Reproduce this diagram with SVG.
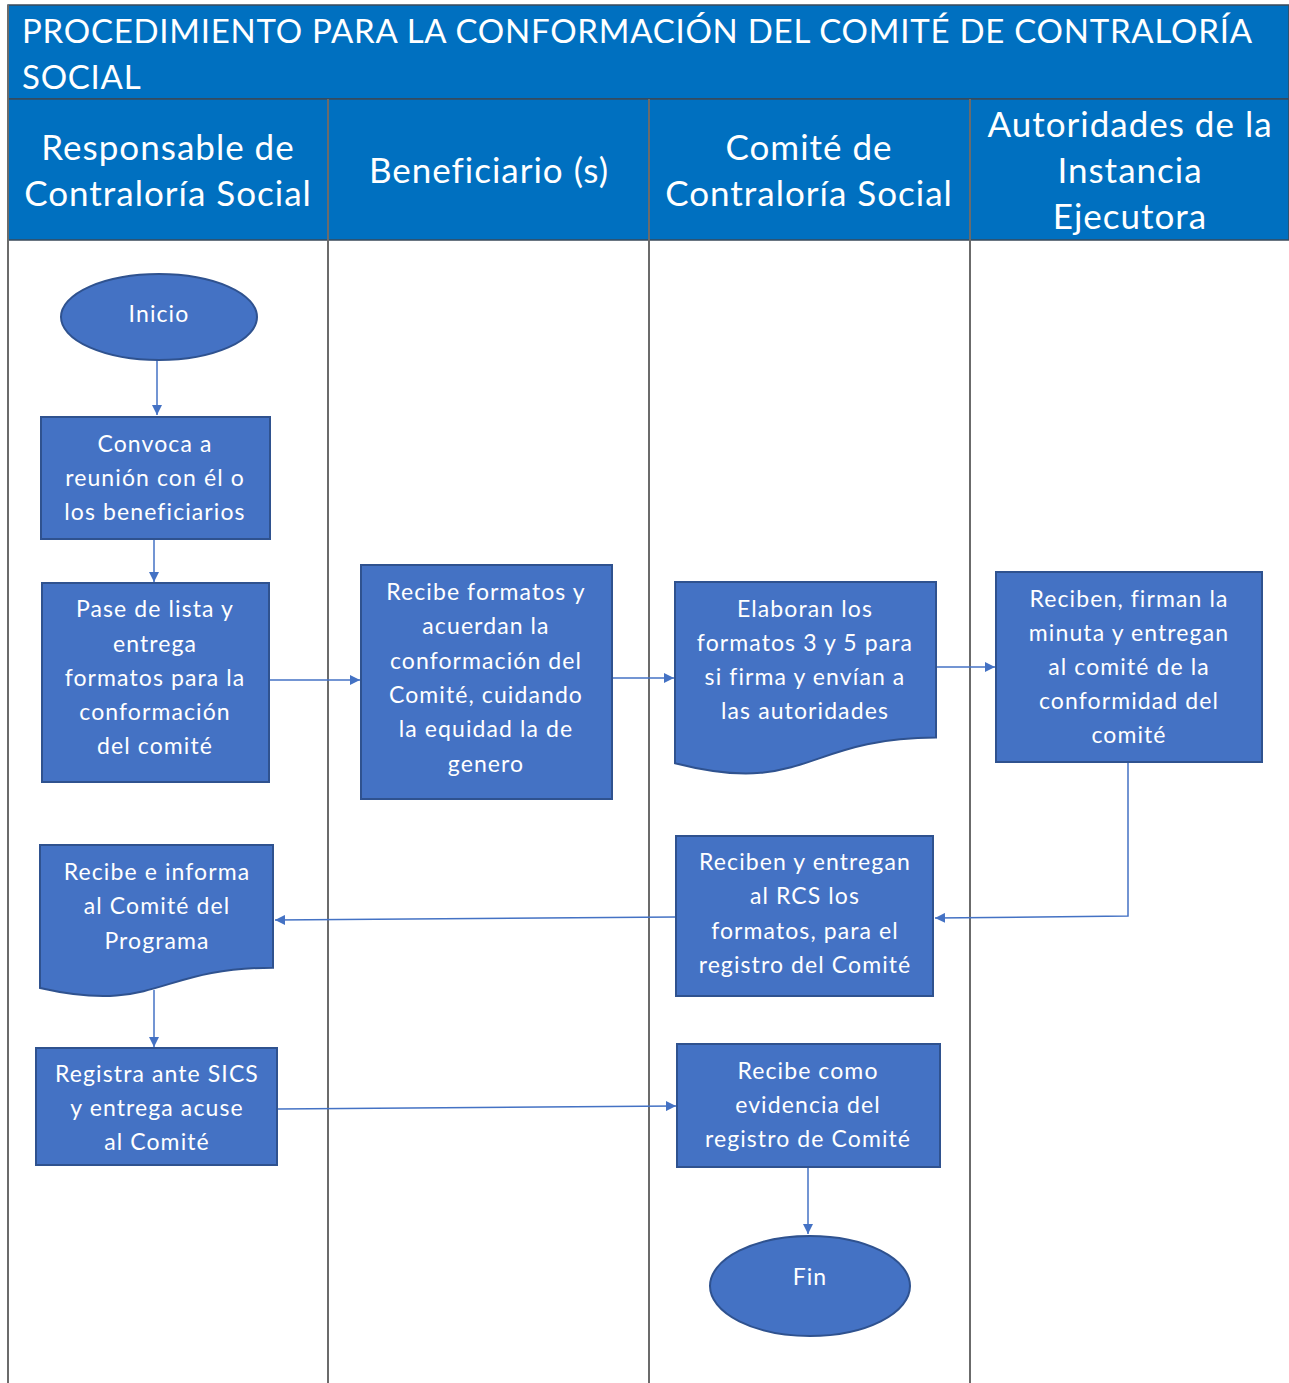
<svg xmlns="http://www.w3.org/2000/svg" width="1289" height="1383" viewBox="0 0 1289 1383">
<style>
.hdr{fill:#0070C0;stroke:#3a4a5a;stroke-width:1.5}
.lane{stroke:#6b6b6b;stroke-width:2;fill:none}
.node{fill:#4472C4;stroke:#2F528F;stroke-width:2}
.ht{font-family:Lato,"Liberation Sans",sans-serif;fill:#fff;font-size:33px;letter-spacing:0.75px}
.hc{font-family:Lato,"Liberation Sans",sans-serif;fill:#fff;font-size:35px;letter-spacing:1px;text-anchor:middle}
.nt{font-family:Lato,"Liberation Sans",sans-serif;fill:#fff;font-size:23px;letter-spacing:1.1px;text-anchor:middle}
.con{stroke:#4472C4;stroke-width:1.5;fill:none;marker-end:url(#ah)}
</style>
<defs>
<marker id="ah" viewBox="0 0 10 10" refX="10" refY="5" markerWidth="10" markerHeight="10" markerUnits="userSpaceOnUse" orient="auto">
<path d="M0,0 L10,5 L0,10 Z" fill="#4472C4"/>
</marker>
</defs>
<rect width="1289" height="1383" fill="#fff"/>
<g id="header">
<rect class="hdr" x="8" y="5" width="1281" height="94"/>
<rect class="hdr" x="8" y="99" width="1281" height="141"/>
<text class="ht" x="22" y="43">PROCEDIMIENTO PARA LA CONFORMACIÓN DEL COMITÉ DE CONTRALORÍA</text>
<text class="ht" x="22" y="89">SOCIAL</text>
<text class="hc" x="168" y="160">Responsable de</text>
<text class="hc" x="168" y="206">Contraloría Social</text>
<text class="hc" x="489" y="183">Beneficiario (s)</text>
<text class="hc" x="809" y="160">Comité de</text>
<text class="hc" x="809" y="206">Contraloría Social</text>
<text class="hc" x="1130" y="137">Autoridades de la</text>
<text class="hc" x="1130" y="183">Instancia</text>
<text class="hc" x="1130" y="229">Ejecutora</text>
</g>
<g id="lanes">
<line class="lane" x1="8" y1="5" x2="8" y2="1383"/>
<line class="lane" x1="328" y1="99" x2="328" y2="1383"/>
<line class="lane" x1="649" y1="99" x2="649" y2="1383"/>
<line class="lane" x1="970" y1="99" x2="970" y2="1383"/>
</g>
<g id="connectors">
<line class="con" x1="157" y1="360" x2="157" y2="415"/>
<line class="con" x1="154" y1="539" x2="154" y2="582"/>
<line class="con" x1="269" y1="680" x2="360" y2="680"/>
<line class="con" x1="612" y1="678" x2="674" y2="678"/>
<line class="con" x1="936" y1="667" x2="995" y2="667"/>
<polyline class="con" points="1128,762 1128,916 935,918"/>
<line class="con" x1="676" y1="917" x2="275" y2="920"/>
<line class="con" x1="154" y1="990" x2="154" y2="1047"/>
<line class="con" x1="277" y1="1109" x2="676" y2="1106"/>
<line class="con" x1="808" y1="1167" x2="808" y2="1234"/>
</g>
<g id="inicio">
<ellipse class="node" cx="159" cy="317" rx="98" ry="43"/>
<text class="nt" x="159" y="322">Inicio</text>
</g>
<g id="convoca">
<rect class="node" x="41" y="417" width="229" height="122"/>
<text class="nt" x="155" y="452">Convoca a</text>
<text class="nt" x="155" y="486">reunión con él o</text>
<text class="nt" x="155" y="520">los beneficiarios</text>
</g>
<g id="pase">
<rect class="node" x="42" y="583" width="227" height="199"/>
<text class="nt" x="155" y="617">Pase de lista y</text>
<text class="nt" x="155" y="652">entrega</text>
<text class="nt" x="155" y="686">formatos para la</text>
<text class="nt" x="155" y="720">conformación</text>
<text class="nt" x="155" y="754">del comité</text>
</g>
<g id="recibe-formatos">
<rect class="node" x="361" y="565" width="251" height="234"/>
<text class="nt" x="486" y="600">Recibe formatos y</text>
<text class="nt" x="486" y="634">acuerdan la</text>
<text class="nt" x="486" y="669">conformación del</text>
<text class="nt" x="486" y="703">Comité, cuidando</text>
<text class="nt" x="486" y="737">la equidad la de</text>
<text class="nt" x="486" y="772">genero</text>
</g>
<g id="elaboran">
<path class="node" d="M675,582 H936 V737.6 C805.5,737.6 805.5,796.7 675,763.2 Z"/>
<text class="nt" x="805" y="617">Elaboran los</text>
<text class="nt" x="805" y="651">formatos 3 y 5 para</text>
<text class="nt" x="805" y="685">si firma y envían a</text>
<text class="nt" x="805" y="719">las autoridades</text>
</g>
<g id="reciben-firman">
<rect class="node" x="996" y="572" width="266" height="190"/>
<text class="nt" x="1129" y="607">Reciben, firman la</text>
<text class="nt" x="1129" y="641">minuta y entregan</text>
<text class="nt" x="1129" y="675">al comité de la</text>
<text class="nt" x="1129" y="709">conformidad del</text>
<text class="nt" x="1129" y="743">comité</text>
</g>
<g id="reciben-entregan">
<rect class="node" x="676" y="836" width="257" height="160"/>
<text class="nt" x="805" y="870">Reciben y entregan</text>
<text class="nt" x="805" y="904">al RCS los</text>
<text class="nt" x="805" y="939">formatos, para el</text>
<text class="nt" x="805" y="973">registro del Comité</text>
</g>
<g id="recibe-informa">
<path class="node" d="M40,845 H273 V967.7 C156.5,967.7 156.5,1014.4 40,988 Z"/>
<text class="nt" x="157" y="880">Recibe e informa</text>
<text class="nt" x="157" y="914">al Comité del</text>
<text class="nt" x="157" y="949">Programa</text>
</g>
<g id="registra">
<rect class="node" x="36" y="1048" width="241" height="117"/>
<text class="nt" x="157" y="1082">Registra ante SICS</text>
<text class="nt" x="157" y="1116">y entrega acuse</text>
<text class="nt" x="157" y="1150">al Comité</text>
</g>
<g id="recibe-como">
<rect class="node" x="677" y="1044" width="263" height="123"/>
<text class="nt" x="808" y="1079">Recibe como</text>
<text class="nt" x="808" y="1113">evidencia del</text>
<text class="nt" x="808" y="1147">registro de Comité</text>
</g>
<g id="fin">
<ellipse class="node" cx="810" cy="1286" rx="100" ry="50"/>
<text class="nt" x="810" y="1285">Fin</text>
</g>
</svg>
